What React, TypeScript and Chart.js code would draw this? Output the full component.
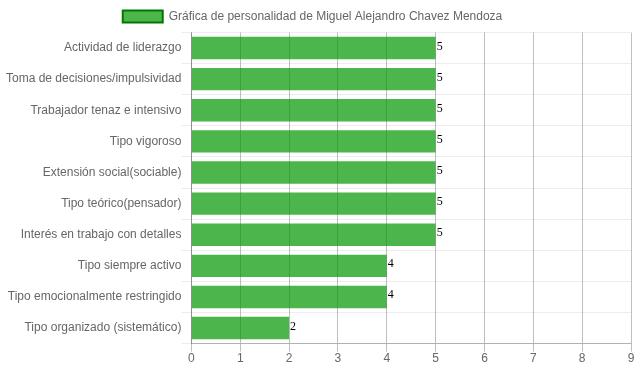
import React, { useEffect, useRef } from "react";
import { Chart, registerables } from "chart.js";

Chart.register(...registerables);

const categories = [
  "Actividad de liderazgo",
  "Toma de decisiones/impulsividad",
  "Trabajador tenaz e intensivo",
  "Tipo vigoroso",
  "Extensión social(sociable)",
  "Tipo teórico(pensador)",
  "Interés en trabajo con detalles",
  "Tipo siempre activo",
  "Tipo emocionalmente restringido",
  "Tipo organizado (sistemático)",
];
const values = [5, 5, 5, 5, 5, 5, 5, 4, 4, 2];
const seriesLabel = "Gráfica de personalidad de Miguel Alejandro Chavez Mendoza";
const xMin = 0;
const xMax = 9;

const FONT = 'Arial, "Liberation Sans", sans-serif';

const valueLabels = {
  id: "valueLabels",
  afterDatasetsDraw(chart: any) {
    const ctx = chart.ctx;
    ctx.save();
    ctx.font = '12px "Liberation Serif", "Times New Roman", serif';
    ctx.fillStyle = "#000";
    ctx.textAlign = "left";
    ctx.textBaseline = "alphabetic";
    chart.data.datasets.forEach((ds: any, di: number) => {
      const meta = chart.getDatasetMeta(di);
      meta.data.forEach((bar: any, i: number) => {
        ctx.fillText(String(ds.data[i]), bar.x + 1, bar.y + 1.5);
      });
    });
    ctx.restore();
  },
};

const legendShift = {
  id: "legendShift",
  afterLayout(chart: any) {
    const lg = chart.legend;
    if (lg) {
      lg.left -= 6;
      lg.right -= 6;
    }
  },
};

export default function App() {
  const ref = useRef<HTMLCanvasElement | null>(null);
  useEffect(() => {
    if (!ref.current) return;
    const chart = new Chart(ref.current, {
      type: "bar",
      data: {
        labels: categories,
        datasets: [
          {
            label: seriesLabel,
            data: values,
            backgroundColor: "rgba(0,150,0,0.7)",
            borderColor: "rgb(0,120,0)",
            borderWidth: 0,
            barPercentage: 0.9,
            categoryPercentage: 0.8,
          },
        ],
      },
      options: {
        indexAxis: "y",
        responsive: false,
        animation: false,
        layout: { padding: { left: 6, right: 6, top: 0, bottom: 5 } },
        plugins: {
          tooltip: { enabled: false },
          legend: {
            display: true,
            position: "top",
            labels: {
              boxWidth: 40,
              padding: 10.5,
              color: "#666",
              font: { family: FONT, size: 12 },
              generateLabels: () => [
                {
                  text: seriesLabel,
                  fillStyle: "rgba(0,150,0,0.7)",
                  strokeStyle: "rgb(0,120,0)",
                  lineWidth: 2,
                  hidden: false,
                  datasetIndex: 0,
                  fontColor: "#666",
                } as any,
              ],
            },
          },
        },
        scales: {
          x: {
            min: xMin,
            max: xMax,
            ticks: {
              stepSize: 1,
              color: "#666",
              padding: 0,
              font: { family: FONT, size: 12 },
            },
            grid: {
              color: "rgba(0,0,0,0.25)",
              tickLength: 8,
            },
            border: { color: "rgba(0,0,0,0.25)" },
          },
          y: {
            ticks: {
              color: "#666",
              padding: 0,
              font: { family: FONT, size: 12 },
            },
            grid: {
              color: "rgba(0,0,0,0.07)",
              tickLength: 10,
              offset: true,
            },
            border: { color: "rgba(0,0,0,0.25)" },
          },
        },
      },
      plugins: [valueLabels, legendShift],
    });
    return () => chart.destroy();
  }, []);
  return (
    <div
      style={{
        position: "fixed",
        left: 0,
        top: 0,
        width: 637,
        height: 371,
        overflow: "hidden",
      }}
    >
      <canvas ref={ref} width={637} height={371} style={{ display: "block" }} />
    </div>
  );
}
